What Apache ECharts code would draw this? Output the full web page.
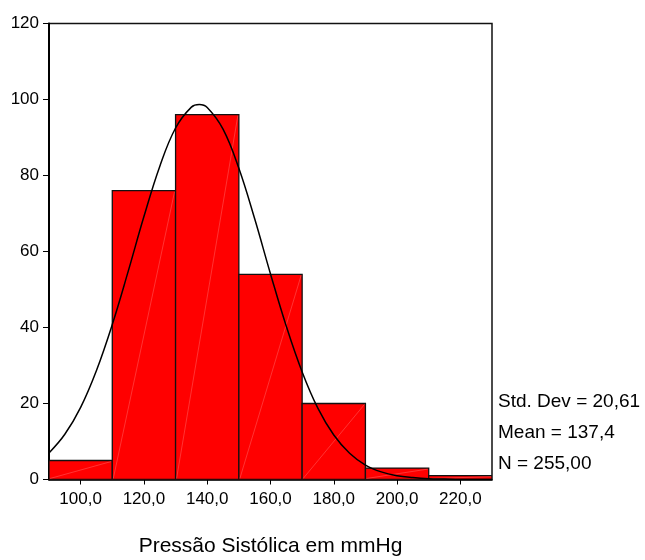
<!DOCTYPE html>
<html>
<head>
<meta charset="utf-8">
<script src="https://cdn.jsdelivr.net/npm/echarts@6/dist/echarts.min.js"></script>
<style>
  html, body { margin: 0; padding: 0; background: #fff; }
  #chart { width: 645px; height: 560px; }
</style>
</head>
<body>
<div id="chart"></div>
<script>
// Histogram of systolic blood pressure (mmHg) with fitted normal curve
const binEdges = [90, 110, 130, 150, 170, 190, 210, 230];
const binCounts = [5, 76, 96, 54, 20, 3, 1];

// normal curve samples (x in mmHg, y in frequency)
const curveX = [90, 95, 100, 105, 110, 115, 120, 125, 130, 135, 137.5, 140, 145, 150, 155, 160, 165, 170, 175, 180, 185, 190, 195, 200, 205, 210, 215, 220, 225, 230];
const curveY = [7.0, 11.9, 19.0, 28.7, 40.8, 54.7, 69.2, 82.4, 92.5, 98.0, 98.7, 97.9, 92.2, 81.9, 68.6, 54.1, 40.3, 28.3, 18.7, 11.7, 6.9, 3.8, 2.0, 1.0, 0.5, 0.2, 0.1, 0.0, 0.0, 0.0];

const xTicks = [100, 120, 140, 160, 180, 200, 220];
const yTicks = { min: 0, max: 120, step: 20 };

const statLines = ['Std. Dev = 20,61', 'Mean = 137,4', 'N = 255,00'];
const axisTitle = 'Pressão Sistólica em mmHg';

const FONT = '"Liberation Sans", Arial, sans-serif';

const barData = binCounts.map((c, i) => [binEdges[i], binEdges[i + 1], c]);
const curveData = curveX.map((x, i) => [x, curveY[i]]);

const chart = echarts.init(document.getElementById('chart'), null, { renderer: 'canvas' });

chart.setOption({
  backgroundColor: '#ffffff',
  animation: false,
  grid: {
    left: 49, right: 153, top: 23.5, bottom: 80.5,
    outerBoundsMode: 'none',
    containLabel: false,
    show: true, borderColor: '#111', borderWidth: 1.5, backgroundColor: 'transparent'
  },
  xAxis: {
    type: 'value',
    min: binEdges[0],
    max: binEdges[binEdges.length - 1],
    name: axisTitle,
    nameLocation: 'middle',
    nameGap: 56,
    nameTextStyle: { fontFamily: FONT, fontSize: 21, color: '#000' },
    splitLine: { show: false },
    axisLine: { lineStyle: { color: '#000', width: 1.5 } },
    axisTick: { customValues: xTicks, length: 5, lineStyle: { color: '#000', width: 1 } },
    axisLabel: {
      customValues: xTicks,
      margin: 11,
      fontFamily: FONT, fontSize: 17, color: '#000',
      formatter: v => v.toFixed(1).replace('.', ',')
    }
  },
  yAxis: {
    type: 'value',
    min: yTicks.min, max: yTicks.max, interval: yTicks.step,
    splitLine: { show: false },
    axisLine: { show: true, lineStyle: { color: '#000', width: 2 } },
    axisTick: { show: true, length: 6, lineStyle: { color: '#000', width: 1 } },
    axisLabel: { margin: 10, fontFamily: FONT, fontSize: 17, color: '#000' }
  },
  graphic: statLines.map((t, i) => ({
    type: 'text',
    x: 498,
    y: 402 + i * 31,
    style: { text: t, font: '19px ' + FONT, fill: '#000', verticalAlign: 'middle' }
  })),
  series: [
    {
      type: 'custom',
      data: barData,
      encode: { x: [0, 1], y: 2 },
      clip: true,
      z: 2,
      renderItem: function (params, api) {
        const lo = api.value(0), hi = api.value(1), c = api.value(2);
        const p0 = api.coord([lo, 0]);
        const p1 = api.coord([hi, c]);
        return {
          type: 'group',
          children: [
            {
              type: 'rect',
              shape: { x: p0[0], y: p1[1], width: p1[0] - p0[0], height: p0[1] - p1[1] },
              style: { fill: '#ff0000', stroke: '#111', lineWidth: 1.3 }
            },
            {
              type: 'line',
              shape: { x1: p0[0] + 1, y1: p0[1] - 1, x2: p1[0] - 1, y2: p1[1] + 1 },
              style: { stroke: '#ffffff', lineWidth: 0.5, opacity: 0.4 }
            }
          ]
        };
      }
    },
    {
      type: 'line',
      data: curveData,
      smooth: 0.4,
      symbol: 'none',
      clip: true,
      z: 3,
      lineStyle: { color: '#000', width: 1.5 }
    }
  ]
});
</script>
</body>
</html>
